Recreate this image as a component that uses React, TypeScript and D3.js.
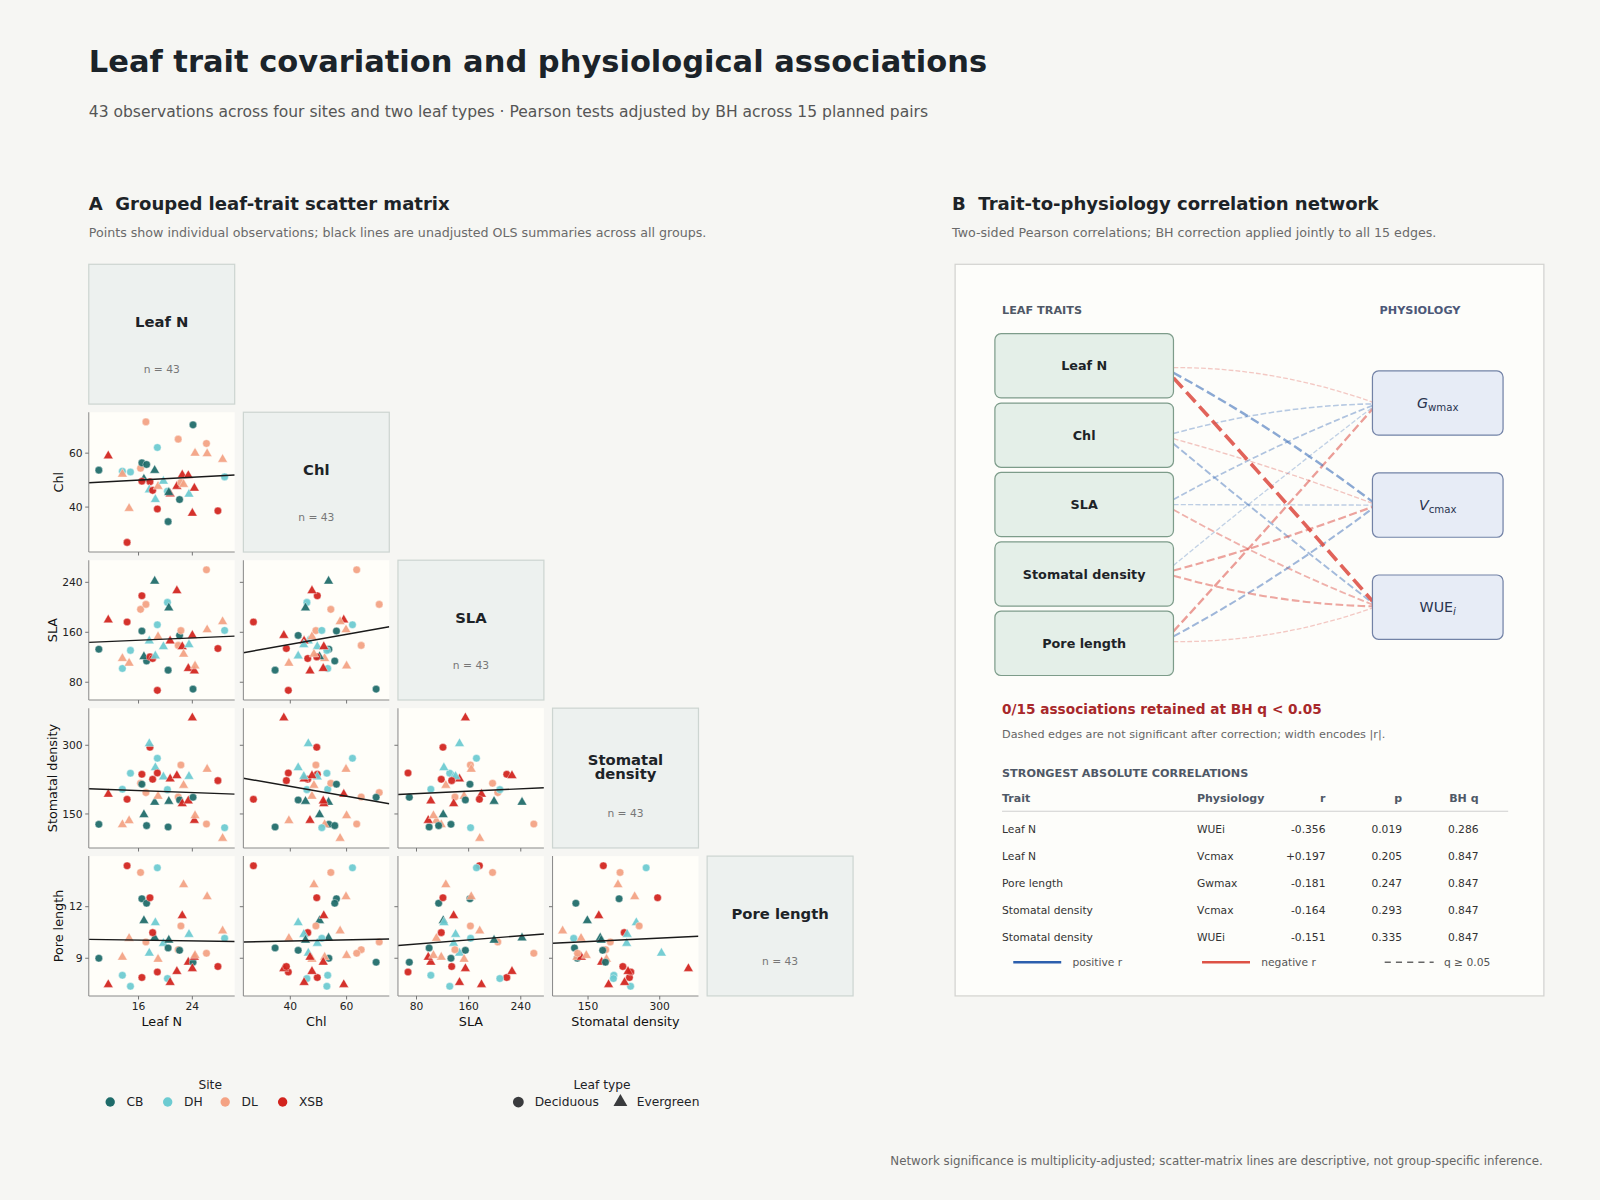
import React from 'react';
import * as d3 from 'd3';

const FONT = '"DejaVu Sans", Verdana, sans-serif';

// ---- observations (43 leaves) ----
const sites = ['CB', 'DH', 'DL', 'XSB'];
const siteColors = ['#1e6b69', '#6ccbd1', '#f4a283', '#d2231d'];
const leafTypes = ['Deciduous', 'Evergreen'];

const obsSite = [
  'CB', 'XSB', 'DH', 'DL', 'DH', 'XSB', 'DL', 'DL', 'CB', 'CB', 'DL', 'CB', 'XSB', 'XSB', 'CB',
  'DH', 'XSB', 'DH', 'DH', 'XSB', 'DL', 'DH', 'DH', 'CB', 'XSB', 'XSB', 'DL', 'CB', 'DL', 'XSB',
  'DL', 'XSB', 'DH', 'CB', 'XSB', 'XSB', 'DL', 'DL', 'DL', 'XSB', 'DL', 'DH', 'CB',
];
const obsType = [
  'D', 'E', 'D', 'E', 'D', 'D', 'E', 'D', 'D', 'D', 'D', 'E', 'D', 'D', 'E',
  'E', 'D', 'E', 'D', 'D', 'E', 'E', 'D', 'D', 'E', 'E', 'D', 'D', 'D', 'E',
  'E', 'E', 'E', 'D', 'E', 'E', 'E', 'D', 'E', 'D', 'E', 'D', 'E',
];
const leafN = [
  10.1, 11.5, 13.6, 13.6, 14.8, 14.3, 14.6, 16.3, 16.5, 17.2, 17.1, 16.8, 16.5, 17.7, 18.4,
  17.6, 18.1, 18.5, 18.8, 18.8, 18.9, 19.7, 20.3, 20.4, 20.7, 21.7, 21.9, 22.1, 22.3, 22.5,
  22.7, 23.4, 23.5, 24.1, 24.0, 24.3, 24.4, 26.1, 26.2, 27.8, 28.5, 28.8, 20.5,
];
const chl = [
  53.7, 59.0, 53.3, 52.2, 53.0, 26.9, 39.5, 54.4, 56.4, 55.8, 71.6, 50.4, 49.6, 49.4, 53.6,
  46.4, 46.2, 42.8, 62.1, 39.3, 47.7, 49.6, 45.9, 34.6, 44.9, 47.7, 65.2, 42.8, 49.1, 51.9,
  48.4, 51.7, 44.8, 70.5, 37.7, 47.0, 60.0, 63.6, 59.8, 38.6, 57.7, 51.2, 45.4,
];
const sla = [
  132.9, 179.7, 102, 118, 131, 176.5, 110.5, 196.7, 162, 114, 204.7, 121, 218.5, 120.6, 241.9,
  146, 118, 122, 172, 67, 153, 137, 207.9, 99.4, 146, 226.5, 139, 155, 162.7, 137,
  125, 102, 140, 69, 155, 98, 106, 260, 164, 134, 177, 163, 199,
];
const stomatalDensity = [
  127.4, 193, 204, 126.7, 239, 182, 135.4, 217, 215, 124.5, 196.6, 148.5, 236.6, 295.6, 175.5,
  303.6, 225.7, 251, 271.6, 239.5, 188.6, 230.8, 203.1, 121.6, 226.4, 233.7, 187, 180.6, 257, 172.5,
  212.6, 178.4, 232, 186.4, 360, 136, 146.3, 128, 247.6, 222.8, 96.8, 120, 177.6,
];
const poreLength = [
  9.0, 7.47, 8.01, 9.06, 7.37, 14.38, 10.16, 13.99, 12.46, 12.2, 9.95, 11.19, 7.88, 12.52, 10.18,
  9.3, 10.49, 11.07, 14.26, 8.2, 8.94, 9.87, 7.82, 9.6, 7.59, 8.23, 9.5, 9.46, 10.88, 11.48,
  13.28, 8.77, 10.39, 8.77, 8.4, 9.06, 9.16, 9.29, 12.58, 8.52, 10.59, 10.16, 10.05,
];

const traitNames = ['Leaf N', 'Chl', 'SLA', 'Stomatal density', 'Pore length'];
const traitValues = [leafN, chl, sla, stomatalDensity, poreLength];
const traitTicks = [[16, 24], [40, 60], [80, 160, 240], [150, 300], [9, 12]];

// ---- network ----
const physioNames = ['Gwmax', 'Vcmax', 'WUEi'];
const edgeTrait = [0, 0, 0, 1, 1, 1, 2, 2, 2, 3, 3, 3, 4, 4, 4];
const edgePhysio = [0, 1, 2, 0, 1, 2, 0, 1, 2, 0, 1, 2, 0, 1, 2];
const edgeR = [-0.05, 0.197, -0.356, 0.08, -0.06, 0.13, 0.1, 0.06, -0.12, 0.05, -0.164, -0.151, -0.181, 0.145, -0.05];

// table of the five strongest edges
const topP = [0.019, 0.205, 0.247, 0.293, 0.335];
const topQ = [0.286, 0.847, 0.847, 0.847, 0.847];

// ---- layout (drawn in a 1568 x 1176 frame) ----
const cellX = (j: number) => 87 + j * 151.5;
const cellY = (i: number) => 259 + i * 145;
const cellW = 143;
const cellH = 137;

const POS = '#3468b5';
const NEG = '#dc4c42';

function paddedDomain(v: number[]): [number, number] {
  const [lo, hi] = d3.extent(v) as [number, number];
  const pad = (hi - lo) * 0.08;
  return [lo - pad, hi + pad];
}

function ols(x: number[], y: number[]) {
  const mx = d3.mean(x)!;
  const my = d3.mean(y)!;
  const sxy = d3.sum(x, (d, i) => (d - mx) * (y[i] - my));
  const sxx = d3.sum(x, (d) => (d - mx) ** 2);
  const b = sxy / sxx;
  return { a: my - b * mx, b };
}

const triangle = d3.symbol().type(d3.symbolTriangle).size(40)()!;

function Marker({ x, y, type, color, r = 3.7 }: { x: number; y: number; type: string; color: string; r?: number }) {
  if (type === 'E') {
    return <path d={triangle} transform={`translate(${x},${y})`} fill={color} stroke="#fff" strokeWidth={0.4} opacity={0.93} />;
  }
  return <circle cx={x} cy={y} r={r} fill={color} stroke="#fff" strokeWidth={0.4} opacity={0.93} />;
}

function ScatterMatrix() {
  const domains = traitValues.map(paddedDomain);
  const xScales = traitValues.map((_, j) => d3.scaleLinear().domain(domains[j]).range([cellX(j), cellX(j) + cellW]));
  const yScales = traitValues.map((_, i) => d3.scaleLinear().domain(domains[i]).range([cellY(i) + cellH, cellY(i)]));
  const colorOf = d3.scaleOrdinal<string, string>().domain(sites).range(siteColors);

  const cells: React.ReactNode[] = [];
  traitNames.forEach((rowName, i) => {
    traitNames.forEach((colName, j) => {
      const x0 = cellX(j);
      const y0 = cellY(i);
      if (i === j) {
        const lines = rowName === 'Stomatal density' ? ['Stomatal', 'density'] : [rowName];
        const cx = x0 + cellW / 2;
        const cy = y0 + cellH / 2;
        cells.push(
          <g key={`d${i}`}>
            <rect x={x0} y={y0} width={cellW} height={cellH} fill="#edf1ef" stroke="#cdd5d1" strokeWidth={1.2} />
            {lines.map((t, k) => (
              <text key={t} x={cx} y={cy - 12 + (lines.length === 2 ? (k === 0 ? -6 : 8) : 0)} dy="0.36em" textAnchor="middle"
                fontSize={14.5} fontWeight="bold" fill="#1d2327">{t}</text>
            ))}
            <text x={cx} y={cy + 34} dy="0.36em" textAnchor="middle" fontSize={10.5} fill="#777">n = {traitValues[i].length}</text>
          </g>,
        );
        return;
      }
      if (i < j) return;
      const xs = xScales[j];
      const ys = yScales[i];
      const xv = traitValues[j];
      const yv = traitValues[i];
      const fit = ols(xv, yv);
      const [dx0, dx1] = xs.domain();
      const clipId = `clip-${i}-${j}`;
      cells.push(
        <g key={`s${i}-${j}`}>
          <clipPath id={clipId}>
            <rect x={x0} y={y0} width={cellW} height={cellH} />
          </clipPath>
          <rect x={x0} y={y0} width={cellW} height={cellH} fill="#fffef9" />
          <g clipPath={`url(#${clipId})`}>
            {xv.map((v, k) => (
              <Marker key={k} x={xs(v)} y={ys(yv[k])} type={obsType[k]} color={colorOf(obsSite[k])} />
            ))}
            <line x1={xs(dx0)} y1={ys(fit.a + fit.b * dx0)} x2={xs(dx1)} y2={ys(fit.a + fit.b * dx1)} stroke="#1a1a1a" strokeWidth={1.4} />
          </g>
          <line x1={x0} y1={y0} x2={x0} y2={y0 + cellH} stroke="#8a8a8a" strokeWidth={1} />
          <line x1={x0} y1={y0 + cellH} x2={x0 + cellW} y2={y0 + cellH} stroke="#8a8a8a" strokeWidth={1} />
          {traitTicks[j].map((t) => (
            <g key={`xt${t}`}>
              <line x1={xs(t)} x2={xs(t)} y1={y0 + cellH} y2={y0 + cellH + 3.5} stroke="#777" />
              {i === 4 && (
                <text x={xs(t)} y={y0 + cellH + 14} textAnchor="middle" fontSize={10.5} fill="#222">{t}</text>
              )}
            </g>
          ))}
          {traitTicks[i].map((t) => (
            <g key={`yt${t}`}>
              <line x1={x0 - 3.5} x2={x0} y1={ys(t)} y2={ys(t)} stroke="#777" />
              {j === 0 && (
                <text x={x0 - 6} y={ys(t)} dy="0.35em" textAnchor="end" fontSize={10.5} fill="#222">{t}</text>
              )}
            </g>
          ))}
        </g>,
      );
    });
  });

  return (
    <g>
      {cells}
      {traitNames.slice(1).map((name, k) => {
        const i = k + 1;
        const cy = cellY(i) + cellH / 2;
        // sit left of the widest tick label of the row
        const digits = d3.max(traitTicks[i], (t) => String(t).length)!;
        const lx = cellX(0) - 6 - digits * 6.3 - 11;
        return (
          <text key={`yl${name}`} transform={`translate(${lx},${cy}) rotate(-90)`} dy="0.35em" textAnchor="middle" fontSize={12.5} fill="#111">{name}</text>
        );
      })}
      {traitNames.slice(0, 4).map((name, j) => (
        <text key={`xl${name}`} x={cellX(j) + cellW / 2} y={1005} textAnchor="middle" fontSize={12.5} fill="#111">{name}</text>
      ))}
    </g>
  );
}

function Legend() {
  const siteX = d3.scalePoint<string>().domain(sites).range([108, 277]);
  const typeX = d3.scalePoint<string>().domain(leafTypes).range([508, 608]);
  return (
    <g fontSize={12} fill="#1d2327">
      <text x={206} y={1063} dy="0.35em" textAnchor="middle">Site</text>
      {sites.map((s, k) => (
        <g key={s}>
          <circle cx={siteX(s)} cy={1080} r={4.6} fill={siteColors[k]} />
          <text x={siteX(s)! + 16} y={1080} dy="0.35em">{s}</text>
        </g>
      ))}
      <text x={590} y={1063} dy="0.35em" textAnchor="middle">Leaf type</text>
      {leafTypes.map((t) => (
        <g key={t}>
          {t === 'Deciduous' ? (
            <circle cx={typeX(t)} cy={1080} r={5.3} fill="#3a3b3d" />
          ) : (
            <path d={d3.symbol().type(d3.symbolTriangle).size(80)()!} transform={`translate(${typeX(t)},${1080})`} fill="#3a3b3d" />
          )}
          <text x={typeX(t)! + 16} y={1080} dy="0.35em">{t}</text>
        </g>
      ))}
    </g>
  );
}

function PhysioLabel({ name, x, y }: { name: string; x: number; y: number }) {
  if (name === 'WUEi') {
    return (
      <text x={x} y={y} dy="0.35em" textAnchor="middle" fontSize={14} fill="#2a3450">
        WUE<tspan fontStyle="italic" fontSize={10} dy={3}>i</tspan>
      </text>
    );
  }
  return (
    <text x={x} y={y} dy="0.35em" textAnchor="middle" fontSize={14} fill="#2a3450">
      <tspan fontStyle="italic">{name[0]}</tspan>
      <tspan fontSize={10} dy={3}>{name.slice(1)}</tspan>
    </text>
  );
}

function Network() {
  const traitY = d3.scalePoint<string>().domain(traitNames).range([358.5, 630.5]);
  const physY = d3.scalePoint<string>().domain(physioNames).range([395, 595]);
  const midY = (358.5 + 630.5) / 2;
  const tx1 = 1150;
  const px0 = 1345;
  const width = d3.scaleLinear().domain([0, 0.4]).range([0.9, 3.9]);
  const alpha = d3.scaleLinear().domain([0, 0.36]).range([0.2, 0.88]).clamp(true);

  const edges = edgeR.map((r, k) => ({
    trait: traitNames[edgeTrait[k]],
    physio: physioNames[edgePhysio[k]],
    r,
  }));
  const order = d3.range(edges.length).sort((a, b) => Math.abs(edges[a].r) - Math.abs(edges[b].r));
  const top = [...order].reverse().slice(0, 5).map((k) => edges[k]);
  const retained = topQ.filter((q) => q < 0.05).length;

  const cols = { trait: 982, physio: 1173, r: 1299, p: 1374, q: 1449 };
  const rowY = d3.scalePoint<number>().domain(d3.range(5)).range([812.5, 918.5]);
  const fmt = (v: number) => v.toFixed(3);

  return (
    <g>
      <rect x={936} y={259} width={577} height={717} fill="#fdfdfa" stroke="#d3d3d0" strokeWidth={1.2} />
      <text x={982} y={304} dy="0.35em" fontSize={11} fontWeight="bold" fill="#4f5866">LEAF TRAITS</text>
      <text x={1352} y={304} dy="0.35em" fontSize={11} fontWeight="bold" fill="#4c5878">PHYSIOLOGY</text>

      {order.map((k) => {
        const e = edges[k];
        const ty = traitY(e.trait)!;
        const py = physY(e.physio)!;
        // ends fan out slightly toward the partner node
        const y0 = ty + 0.05 * (py - ty);
        const y1 = py + 0.025 * (ty - py);
        const cx = (tx1 + px0) / 2;
        const cy = (y0 + y1) / 2 + 0.15 * ((y0 + y1) / 2 - midY);
        const path = d3.path();
        path.moveTo(tx1, y0);
        path.quadraticCurveTo(cx, cy, px0, y1);
        const lw = width(Math.abs(e.r));
        return (
          <path key={`e${k}`} d={path.toString()} fill="none" stroke={e.r > 0 ? POS : NEG} strokeWidth={lw}
            strokeOpacity={alpha(Math.abs(e.r))} strokeDasharray={`${3.7 * lw} ${1.6 * lw}`} />
        );
      })}

      {traitNames.map((t) => (
        <g key={t}>
          <rect x={975} y={traitY(t)! - 31.5} width={175} height={63} rx={6} fill="#e4efe8" stroke="#7d9c8a" strokeWidth={1.2} />
          <text x={1062.5} y={traitY(t)} dy="0.36em" textAnchor="middle" fontSize={12.5} fontWeight="bold" fill="#1d2327">{t}</text>
        </g>
      ))}
      {physioNames.map((p) => (
        <g key={p}>
          <rect x={px0} y={physY(p)! - 31.5} width={128} height={63} rx={6} fill="#e7ecf6" stroke="#7282a6" strokeWidth={1.2} />
          <PhysioLabel name={p} x={px0 + 64} y={physY(p)!} />
        </g>
      ))}

      <text x={982} y={695} dy="0.35em" fontSize={13.4} fontWeight="bold" fill="#a8282a">
        {`${retained}/${edges.length} associations retained at BH q < 0.05`}
      </text>
      <text x={982} y={719} dy="0.35em" fontSize={11} fill="#666">Dashed edges are not significant after correction; width encodes |r|.</text>
      <text x={982} y={758} dy="0.35em" fontSize={11} fontWeight="bold" fill="#4f5866">STRONGEST ABSOLUTE CORRELATIONS</text>

      <g fontSize={10.8} fontWeight="bold" fill="#4f5866">
        <text x={cols.trait} y={782} dy="0.35em">Trait</text>
        <text x={cols.physio} y={782} dy="0.35em">Physiology</text>
        <text x={cols.r} y={782} dy="0.35em" textAnchor="end">r</text>
        <text x={cols.p} y={782} dy="0.35em" textAnchor="end">p</text>
        <text x={cols.q} y={782} dy="0.35em" textAnchor="end">BH q</text>
      </g>
      <line x1={982} x2={1478} y1={795} y2={795} stroke="#cfcfcf" strokeWidth={1} />
      <g fontSize={10.5} fill="#333">
        {top.map((e, k) => (
          <g key={`row${k}`}>
            <text x={cols.trait} y={rowY(k)} dy="0.35em">{e.trait}</text>
            <text x={cols.physio} y={rowY(k)} dy="0.35em">{e.physio}</text>
            <text x={cols.r} y={rowY(k)} dy="0.35em" textAnchor="end">{(e.r > 0 ? '+' : '') + fmt(e.r)}</text>
            <text x={cols.p} y={rowY(k)} dy="0.35em" textAnchor="end">{fmt(topP[k])}</text>
            <text x={cols.q} y={rowY(k)} dy="0.35em" textAnchor="end">{fmt(topQ[k])}</text>
          </g>
        ))}
      </g>

      <g fontSize={10.5} fill="#555">
        <line x1={993} x2={1040} y1={943} y2={943} stroke="#2c5fad" strokeWidth={2.6} />
        <text x={1051} y={943} dy="0.35em">positive r</text>
        <line x1={1178} x2={1225} y1={943} y2={943} stroke="#dd5245" strokeWidth={2.6} />
        <text x={1236} y={943} dy="0.35em">negative r</text>
        <line x1={1357} x2={1405} y1={943} y2={943} stroke="#666" strokeWidth={1.6} strokeDasharray="6 5" />
        <text x={1415} y={943} dy="0.35em">q ≥ 0.05</text>
      </g>
    </g>
  );
}

export default function App() {
  return (
    <svg width={1600} height={1200} viewBox="0 0 1568 1176" fontFamily={FONT}
      style={{ position: 'absolute', left: 0, top: 0, display: 'block' }}>
      <rect x={0} y={0} width={1568} height={1176} fill="#f6f6f3" />
      <text x={87} y={71} fontSize={29.9} fontWeight="bold" fill="#1b2329">Leaf trait covariation and physiological associations</text>
      <text x={87} y={115} fontSize={15.25} fill="#555">43 observations across four sites and two leaf types · Pearson tests adjusted by BH across 15 planned pairs</text>

      <text x={87} y={206} fontSize={17.7} fontWeight="bold" fill="#1d2327" style={{ whiteSpace: 'pre' }}>A  Grouped leaf-trait scatter matrix</text>
      <text x={87} y={232} fontSize={12.4} fill="#6a6a6a">Points show individual observations; black lines are unadjusted OLS summaries across all groups.</text>
      <text x={933} y={206} fontSize={17.7} fontWeight="bold" fill="#1d2327" style={{ whiteSpace: 'pre' }}>B  Trait-to-physiology correlation network</text>
      <text x={933} y={232} fontSize={12.4} fill="#6a6a6a">Two-sided Pearson correlations; BH correction applied jointly to all 15 edges.</text>

      <ScatterMatrix />
      <Legend />
      <Network />

      <text x={1512} y={1142} textAnchor="end" fontSize={11.6} fill="#666">
        Network significance is multiplicity-adjusted; scatter-matrix lines are descriptive, not group-specific inference.
      </text>
    </svg>
  );
}
